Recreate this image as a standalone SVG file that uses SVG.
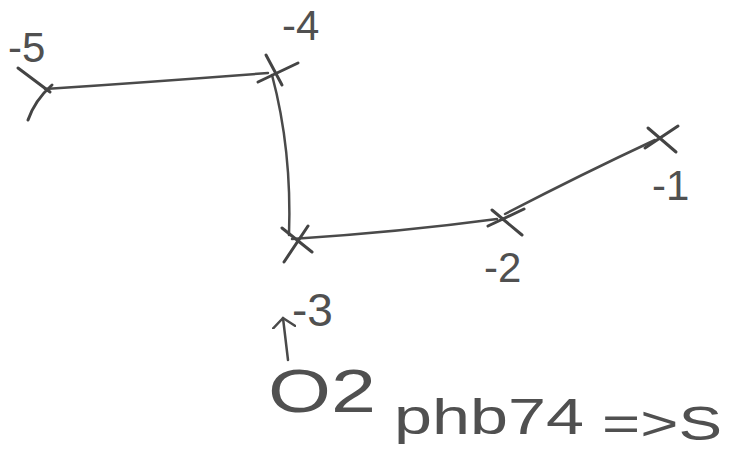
<svg xmlns="http://www.w3.org/2000/svg" width="730" height="451" viewBox="0 0 730 451">
<style>
.ln{fill:none;stroke:#4a4a4a;stroke-width:2.5;stroke-linecap:round}
.x{fill:none;stroke:#444;stroke-width:3;stroke-linecap:round}
.t{font-family:"Liberation Sans","DejaVu Sans",sans-serif;font-size:42px;fill:#505050}
</style>
<defs>
<marker id="ah" markerWidth="20" markerHeight="24" refX="10" refY="12" orient="auto" markerUnits="userSpaceOnUse">
<path d="M0,0 L10,12 L0,24" fill="none" stroke="#4a4a4a" stroke-width="2.5"/>
</marker>
</defs>
<rect width="730" height="451" fill="#fff"/>
<g id="connectors">
<path class="ln" d="M45,89 Q150,82 268,73"/>
<path class="ln" d="M272,75 Q292,150 289,235"/>
<path class="ln" d="M292,239 Q400,232 497,219"/>
<path class="ln" d="M505,214 Q580,175 655,140"/>
<path class="ln" d="M288,360 L283,318" marker-end="url(#ah)"/>
</g>
<g id="n5">
<path class="x" d="M18,68 L50,92 M52,85 Q35,100 28,120"/>
<text class="t" x="8" y="62">-5</text>
</g>
<g id="n4">
<path class="x" d="M258,82 L298,63 M266,55 L282,85"/>
<text class="t" x="282" y="40">-4</text>
</g>
<g id="n3">
<path class="x" d="M282,228 L312,252 M308,226 L284,262"/>
<text class="t" x="292" y="326" style="font-size:46px">-3</text>
</g>
<g id="n2">
<path class="x" d="M492,210 L522,235 M488,226 L524,209"/>
<text class="t" x="484" y="282">-2</text>
</g>
<g id="n1">
<path class="x" d="M648,128 L676,152 M645,148 L678,126"/>
<text class="t" x="652" y="200">-1</text>
</g>
<g id="note">
<text class="t" x="268" y="412" style="font-size:62px" textLength="108" lengthAdjust="spacingAndGlyphs">O2</text>
<text class="t" x="394" y="434" style="font-size:50px" textLength="190" lengthAdjust="spacingAndGlyphs">phb74</text>
<text class="t" x="602" y="440" style="font-size:48px" textLength="120" lengthAdjust="spacingAndGlyphs">=&gt;S</text>
</g>
</svg>
